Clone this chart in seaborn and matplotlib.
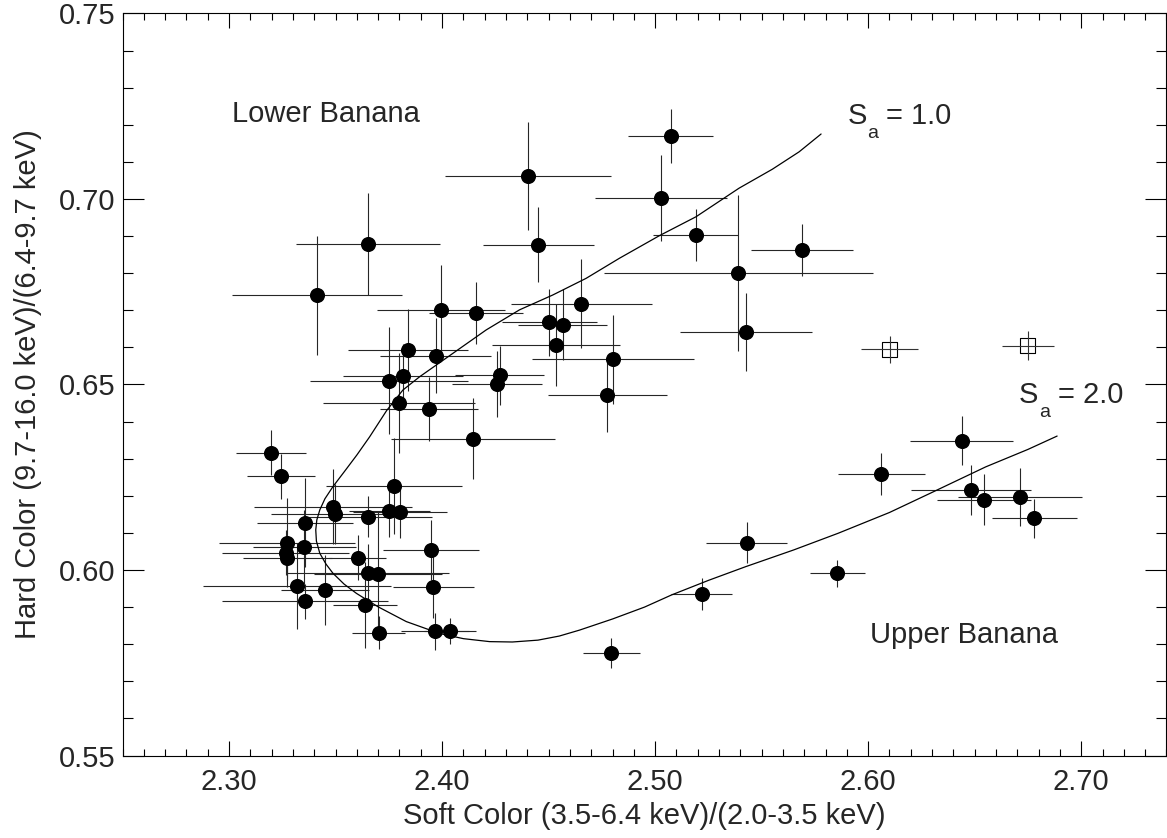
import matplotlib
matplotlib.use("Agg")
import matplotlib.pyplot as plt
import seaborn as sns
import numpy as np
import pandas as pd
from matplotlib.ticker import MultipleLocator, FormatStrFormatter

# ---- data ----
soft = [2.5073, 2.4404, 2.5029, 2.4452, 2.3652, 2.5191, 2.5690, 2.5391, 2.3413, 2.4654,
        2.3996, 2.4160, 2.4504, 2.4566, 2.5426, 2.4535, 2.3840, 2.3970, 2.4801, 2.4270,
        2.4257, 2.3751, 2.3816, 2.4776, 2.3798, 2.3938, 2.4144, 2.3196, 2.3243, 2.3773,
        2.3488, 2.3496, 2.3652, 2.3751, 2.3804, 2.3357, 2.3271, 2.3265, 2.3274, 2.3354,
        2.3604, 2.3946, 2.3652, 2.3699, 2.3959, 2.3318, 2.3451, 2.3357, 2.3638, 2.3702,
        2.3968, 2.4037, 2.6439, 2.6062, 2.6483, 2.6545, 2.6712, 2.6779, 2.5430, 2.5855,
        2.5219, 2.4794]
hard = [0.7170, 0.7061, 0.7003, 0.6877, 0.6878, 0.6902, 0.6862, 0.6800, 0.6740, 0.6717,
        0.6702, 0.6693, 0.6668, 0.6661, 0.6641, 0.6607, 0.6593, 0.6578, 0.6568, 0.6525,
        0.6501, 0.6510, 0.6524, 0.6472, 0.6450, 0.6434, 0.6354, 0.6316, 0.6252, 0.6226,
        0.6171, 0.6151, 0.6144, 0.6160, 0.6155, 0.6127, 0.6073, 0.6047, 0.6032, 0.6061,
        0.6033, 0.6054, 0.5991, 0.5990, 0.5955, 0.5958, 0.5946, 0.5916, 0.5906, 0.5831,
        0.5835, 0.5836, 0.6349, 0.6259, 0.6216, 0.6190, 0.6196, 0.6139, 0.6074, 0.5991,
        0.5935, 0.5777]
soft_err = [0.020, 0.039, 0.031, 0.026, 0.034, 0.020, 0.024, 0.063, 0.040, 0.033,
            0.030, 0.022, 0.0225, 0.021, 0.031, 0.030, 0.028, 0.026, 0.038, 0.021,
            0.021, 0.037, 0.028, 0.028, 0.0355, 0.023, 0.0385, 0.0164, 0.016, 0.032,
            0.037, 0.030, 0.030, 0.019, 0.022, 0.0224, 0.032, 0.030, 0.021, 0.024,
            0.0135, 0.0225, 0.038, 0.030, 0.019, 0.044, 0.0207, 0.039, 0.015, 0.0125,
            0.016, 0.012, 0.0243, 0.0204, 0.028, 0.022, 0.029, 0.020, 0.019, 0.013,
            0.0143, 0.0134]
hard_err = [0.0073, 0.0146, 0.0115, 0.010, 0.0138, 0.007, 0.007, 0.021, 0.016, 0.012,
            0.012, 0.0083, 0.009, 0.0095, 0.0105, 0.011, 0.011, 0.010, 0.012, 0.008,
            0.009, 0.0144, 0.0086, 0.010, 0.0135, 0.0087, 0.011, 0.006, 0.006, 0.013,
            0.010, 0.008, 0.0056, 0.007, 0.007, 0.012, 0.012, 0.006, 0.006, 0.010,
            0.006, 0.008, 0.008, 0.017, 0.0085, 0.0116, 0.0095, 0.0047, 0.0115, 0.0045,
            0.005, 0.0035, 0.0066, 0.0056, 0.0067, 0.007, 0.0078, 0.0053, 0.0056, 0.0037,
            0.0043, 0.004]

# open squares
sq_soft = [2.6101, 2.6748]
sq_hard = [0.6595, 0.6604]
sq_soft_err = [0.0135, 0.0122]
sq_hard_err = [0.0036, 0.0039]

# model track (S_a from 1.0 at the top end to 2.0 at the right end)
curve_soft = [2.5779, 2.5676, 2.5550, 2.5394, 2.5192, 2.5020, 2.4832, 2.4676, 2.4519, 2.4363,
              2.4207, 2.4051, 2.3895, 2.3816, 2.3740, 2.3660, 2.3600, 2.3545, 2.3488, 2.3450,
              2.3426, 2.3412, 2.3407, 2.3410, 2.3426, 2.3455, 2.3488, 2.3540, 2.3598, 2.3699,
              2.3832, 2.3988, 2.4100, 2.4223, 2.4330, 2.4450, 2.4550, 2.4645, 2.4800, 2.4950,
              2.5078, 2.5250, 2.5425, 2.5650, 2.5859, 2.6100, 2.6292, 2.6552, 2.6750, 2.6887]
curve_hard = [0.7175, 0.7127, 0.7080, 0.7029, 0.6952, 0.6901, 0.6840, 0.6786, 0.6741, 0.6701,
              0.6647, 0.6584, 0.6521, 0.6485, 0.6430, 0.6359, 0.6310, 0.6268, 0.6225, 0.6192,
              0.6162, 0.6135, 0.6108, 0.6078, 0.6045, 0.6016, 0.5991, 0.5962, 0.5937, 0.5901,
              0.5861, 0.5829, 0.5815, 0.5807, 0.5806, 0.5811, 0.5822, 0.5838, 0.5868, 0.5900,
              0.5933, 0.5972, 0.6009, 0.6054, 0.6099, 0.6155, 0.6207, 0.6278, 0.6325, 0.6361]

xticks = [2.30, 2.40, 2.50, 2.60, 2.70]
yticks = [0.55, 0.60, 0.65, 0.70, 0.75]

# ---- style ----
sns.set_theme(style="ticks")
plt.rcParams['font.family'] = ['Liberation Sans', 'DejaVu Sans']

FS = 21
fig = plt.figure(figsize=(11.67, 8.38), dpi=100)
ax = fig.add_axes([0.105, 0.0984, 0.8945, 0.8856])

df = pd.DataFrame({'soft': soft, 'hard': hard})
sq = pd.DataFrame({'soft': sq_soft, 'hard': sq_hard})
cv = pd.DataFrame({'soft': curve_soft, 'hard': curve_hard})

ax.errorbar(soft, hard, xerr=soft_err, yerr=hard_err, fmt='none',
            ecolor='#262626', elinewidth=0.8, capsize=0, zorder=2)
sns.scatterplot(data=df, x='soft', y='hard', s=118, color='black',
                edgecolor='black', linewidth=0, ax=ax, zorder=3)
sns.scatterplot(data=sq, x='soft', y='hard', s=118, marker='s',
                facecolors='none', edgecolor='black', linewidth=0.8, ax=ax, zorder=3)
ax.errorbar(sq_soft, sq_hard, xerr=sq_soft_err, yerr=sq_hard_err, fmt='none',
            ecolor='#333333', elinewidth=0.8, capsize=0, zorder=4)
sns.lineplot(data=cv, x='soft', y='hard', sort=False, estimator=None,
             color='black', linewidth=0.9, ax=ax, zorder=2)

ax.set_xlim(2.25, 2.74)
ax.set_ylim(0.55, 0.75)
ax.set_xticks(xticks)
ax.set_yticks(yticks)
ax.xaxis.set_major_formatter(FormatStrFormatter('%.2f'))
ax.yaxis.set_major_formatter(FormatStrFormatter('%.2f'))
ax.xaxis.set_minor_locator(MultipleLocator(0.01))
ax.yaxis.set_minor_locator(MultipleLocator(0.01))
ax.tick_params(axis='x', which='major', direction='in', length=10.5, width=0.8,
               top=True, bottom=True, labelsize=FS, pad=9, color='black')
ax.tick_params(axis='x', which='minor', direction='in', length=5, width=0.8,
               top=True, bottom=True, color='black')
ax.tick_params(axis='y', which='major', direction='in', length=15, width=0.8,
               left=True, right=True, labelsize=FS, pad=5, color='black')
ax.tick_params(axis='y', which='minor', direction='in', length=7, width=0.8,
               left=True, right=True, color='black')
for sp in ax.spines.values():
    sp.set_visible(True)
    sp.set_linewidth(0.8)
    sp.set_color('black')

ax.set_xlabel('Soft Color (3.5-6.4 keV)/(2.0-3.5 keV)', fontsize=FS, labelpad=4)
ax.set_ylabel('Hard Color (9.7-16.0 keV)/(6.4-9.7 keV)', fontsize=FS, labelpad=12)

ax.text(2.3012, 0.7208, 'Lower Banana', fontsize=FS, va='baseline', ha='left')
ax.text(2.6010, 0.5802, 'Upper Banana', fontsize=FS, va='baseline', ha='left')


def s_label(x, y, value):
    ax.annotate('S', (x, y), xytext=(0, 0), textcoords='offset points',
                fontsize=FS, va='baseline', ha='left')
    ax.annotate('a', (x, y), xytext=(14.2, -10), textcoords='offset points',
                fontsize=14, va='baseline', ha='left')
    ax.annotate('= ' + value, (x, y), xytext=(28, 0), textcoords='offset points',
                fontsize=FS, va='baseline', ha='left')


s_label(2.5902, 0.7201, '1.0')
s_label(2.6708, 0.6449, '2.0')

fig.savefig('out.png', dpi=100)
